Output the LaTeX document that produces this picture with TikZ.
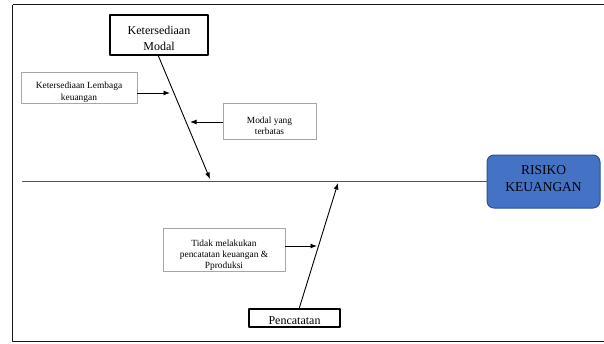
\documentclass[tikz,border=0pt]{standalone}
\usepackage{fontspec}
\setmainfont{Liberation Serif}
\usetikzlibrary{arrows.meta,calc,positioning}
\definecolor{rskBlue}{HTML}{4472C4}
\definecolor{rskBlueLine}{HTML}{2F528F}
\definecolor{rskGrey}{HTML}{A6A6A6}
\definecolor{rskSpine}{HTML}{555555}
\newcommand{\txtdrop}[1]{\rule{0pt}{#1}}
\newcommand{\txtlift}[1]{\rule[-#1]{0pt}{#1}}

\begin{document}
\begin{tikzpicture}[x=1pt,y=-1pt,>={Latex[length=6.5pt,width=5pt]},line join=round]
\useasboundingbox (0,0) rectangle (604,343);
\path[fill=white] (0,0) rectangle (604,343);
\tikzset{mainbox/.style={draw=black,line width=1.2pt,fill=white,align=center,inner sep=1pt,font=\fontsize{12}{16}\selectfont},causebox/.style={draw=rskGrey,line width=0.9pt,fill=white,align=center,inner sep=1pt,font=\fontsize{9.4}{11.3}\selectfont},effectbox/.style={draw=rskBlueLine,fill=rskBlue,line width=1pt,rounded corners=7pt,align=center,font=\fontsize{13.5}{17}\selectfont},bone/.style={draw=black,line width=0.9pt,->},twig/.style={draw=black,line width=0.9pt,->}}
% frame
\draw[line width=1.7pt,draw=black!90] (12.5,4.5) -- (612,4.5) (12.5,4.5) -- (12.5,341.5) -- (612,341.5);
% effect and spine
\node[effectbox,minimum width=113pt,minimum height=53pt] (risiko) at (543.5,181.5) {RISIKO\\KEUANGAN\txtlift{6pt}};
\coordinate (spinestart) at (22,181);
\draw[draw=rskSpine,line width=0.9pt] (spinestart) -- (risiko.west |- spinestart);
% upper bone
\node[mainbox,minimum width=98pt,minimum height=40pt] (modal) at (159,35) {\txtdrop{14.5pt}Ketersediaan\\Modal};
\coordinate (modalfoot) at (158,55); \coordinate (modaltip) at (210,179);
\draw[bone] (modalfoot) -- (modaltip);
\node[causebox,minimum width=116pt,minimum height=30pt] (lembaga) at (79,88) {\txtdrop{15pt}Ketersediaan Lembaga\\keuangan};
\node[causebox,minimum width=93pt,minimum height=36pt] (terbatas) at (269.5,121) {\txtdrop{16pt}Modal yang\\terbatas};
\coordinate (lembagatip) at (170,93); \coordinate (terbatastip) at (190,122);
\draw[twig] (lembaga.east |- lembagatip) -- (lembagatip);
\draw[twig] (terbatas.west |- terbatastip) -- (terbatastip);
% lower bone
\node[mainbox,minimum width=91pt,minimum height=18pt] (catat) at (294.5,318) {\txtdrop{12.5pt}Pencatatan};
\coordinate (catatfoot) at (299,309); \coordinate (catattip) at (338,183);
\draw[bone] (catatfoot) -- (catattip);
\node[causebox,minimum width=122pt,minimum height=38pt] (tidak) at (224,250) {\txtdrop{17pt}Tidak melakukan\\pencatatan keuangan \&\\Pproduksi};
\coordinate (tidaktip) at (317,246);
\draw[twig] (tidak.east |- tidaktip) -- (tidaktip);
\end{tikzpicture}
\end{document}
